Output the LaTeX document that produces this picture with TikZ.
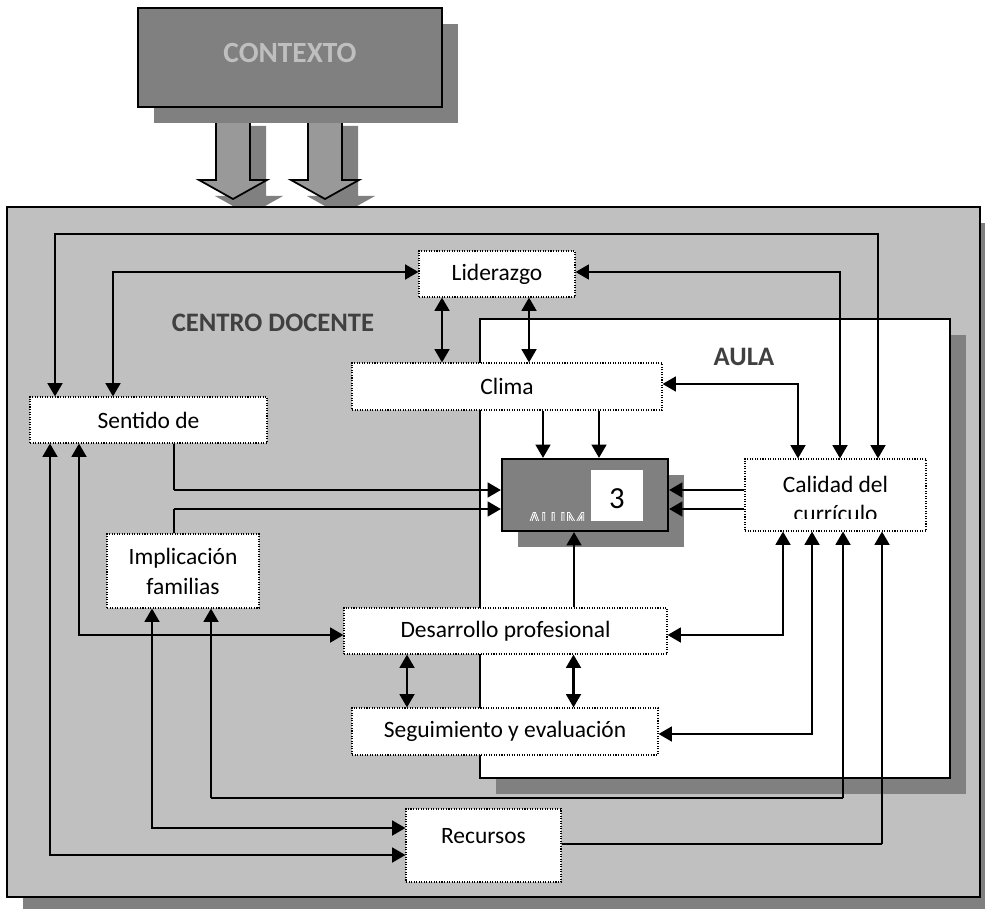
\documentclass[tikz,border=0pt]{standalone}
\usepackage{fontspec}
\setmainfont{Carlito}
\usetikzlibrary{arrows.meta}
\definecolor{outergray}{HTML}{C0C0C0}
\definecolor{boxgray}{HTML}{808080}
\definecolor{arrowgray}{HTML}{999999}
\definecolor{labelgray}{HTML}{404040}
\definecolor{ctxgray}{HTML}{BFBFBF}
\newcommand\txtfont{\fontsize{17.6}{22.5}\selectfont}
\newcommand\lblfont{\bfseries\fontsize{20}{24}\selectfont}
\begin{document}
\begin{tikzpicture}[x=0.75pt,y=-0.75pt,
 sz/.style 2 args={minimum width=#1*0.75pt,minimum height=#2*0.75pt},
 wbox/.style={draw=black,fill=white,line width=0.8pt,dash pattern=on 0.8pt off 1.1pt,inner sep=0pt,font=\txtfont,align=center},
 ftri/.tip={Triangle[length=10pt,width=11pt]},
 arr/.style={line width=2pt,-ftri},
 dbl/.style={line width=2pt,ftri-ftri},
 thinline/.style={line width=1pt},
 txt/.style={font=\txtfont,inner sep=0pt},
 lbl/.style={font=\lblfont,text=labelgray,inner sep=0pt},
 blockarrow/.style={draw=black,line width=1.3pt,fill=arrowgray,line join=miter}]
\useasboundingbox (0,0) rectangle (985,909);
\clip (0,0) rectangle (985,909);
% block arrows
\fill[boxgray] (232,126) -- (266,126) -- (266,196) -- (283,196) -- (249,215) -- (215,196) -- (232,196) -- cycle;
\fill[boxgray] (324,126) -- (358,126) -- (358,196) -- (375,196) -- (341,215) -- (307,196) -- (324,196) -- cycle;
\draw[blockarrow] (216,110) -- (250,110) -- (250,180) -- (267,180) -- (233,199) -- (199,180) -- (216,180) -- cycle;
\draw[blockarrow] (308,110) -- (342,110) -- (342,180) -- (359,180) -- (325,199) -- (291,180) -- (308,180) -- cycle;
% contexto
\fill[boxgray] (154,24) rectangle (458,123);
\node[draw=black,line width=1.3pt,fill=boxgray,sz={304}{99}] (ctx) at (290,57.5) {};
\node[font=\bfseries\fontsize{22}{26}\selectfont,text=ctxgray,inner sep=0pt] (ctxt) at (290,53.3) {CONTEXTO};
% centro docente
\fill[boxgray] (23,223) rectangle (996,913);
\node[draw=black,line width=1.3pt,fill=outergray,sz={973}{690}] (centro) at (493.5,552) {};
% aula
\fill[boxgray] (496,335) rectangle (966,794);
\node[draw=black,line width=1.3pt,fill=white,sz={470}{459}] (aula) at (715,548.5) {};
\node[lbl] (lblcentro) at (273,323) {CENTRO DOCENTE};
\node[lbl] (lblaula) at (744,357) {AULA};
% alumnado
\fill[boxgray] (518,475) rectangle (684,547);
\node[draw=black,line width=1.6pt,fill=boxgray,sz={166}{72}] (alum) at (585,495) {};
\begin{scope}
\clip (503,460) rectangle (591,520.7);
\node[txt,anchor=base west,text=boxgray] (alumtxt) at (527.3,527.5) {\special{pdf:literal direct 2 Tr 1 1 1 RG 0.6 w}ALUM\special{pdf:literal direct 0 Tr}};
\end{scope}
\node[fill=white,sz={52}{51},inner sep=0pt] (three) at (617,495.5) {};
\node[font=\fontsize{23}{27}\selectfont,anchor=base,inner sep=0pt] (threetxt) at (617,508.3) {3};
% white boxes
\node[wbox,sz={156}{46}] (lid) at (497,274) {Liderazgo};
\node[wbox,sz={310}{47}] (clima) at (507,386.5) {Clima};
\node[wbox,sz={237}{46}] (sent) at (148.5,420) {Sentido de};
\node[wbox,sz={181}{72}] (cal) at (835.5,495) {};
\begin{scope}
\clip (746,460) rectangle (925,518.5);
\node[txt,anchor=base] (caltxt1) at (835.5,492.7) {Calidad del};
\node[txt,anchor=base] (caltxt2) at (835.5,521) {currículo};
\end{scope}
\node[wbox,sz={152}{74}] (imp) at (183,571) {Implicación\\familias};
\node[wbox,sz={323}{46}] (des) at (505.5,631) {Desarrollo profesional};
\node[wbox,sz={306}{47}] (seg) at (505,731.5) {Seguimiento y evaluación};
\node[wbox,sz={155}{73}] (rec) at (483.5,845.5) {};
\node[txt,anchor=base] (rectxt) at (483.5,843.3) {Recursos};
% connectors
\coordinate (c1a) at (55,234);
\coordinate (c1b) at (878,234);
\draw[dbl] (sent.north -| c1a) -- (c1a) -- (c1b) -- (c1b |- cal.north);
\coordinate (c2) at (113,272);
\draw[dbl] (sent.north -| c2) -- (c2) -- (c2 -| lid.west);
\coordinate (c3) at (840,272);
\draw[dbl] (lid.east |- c3) -- (c3) -- (c3 |- cal.north);
\coordinate (c4a) at (442,330);
\coordinate (c4b) at (529,330);
\draw[dbl] (lid.south -| c4a) -- (clima.north -| c4a);
\draw[dbl] (lid.south -| c4b) -- (clima.north -| c4b);
\coordinate (c5) at (798,384);
\draw[dbl] (clima.east |- c5) -- (c5) -- (c5 |- cal.north);
\coordinate (c6a) at (543,430);
\coordinate (c6b) at (599,430);
\draw[arr] (clima.south -| c6a) -- (alum.north -| c6a);
\draw[arr] (clima.south -| c6b) -- (alum.north -| c6b);
\coordinate (c7) at (174,490);
\draw[thinline] (sent.south -| c7) -- (c7);
\draw[arr] (c7) -- (c7 -| alum.west);
\coordinate (c8) at (174,509);
\draw[thinline] (imp.north -| c8) -- (c8);
\draw[arr] (c8) -- (c8 -| alum.west);
\draw[arr] (cal.west |- c7) -- (alum.east |- c7);
\draw[arr] (cal.west |- c8) -- (alum.east |- c8);
\coordinate (c10) at (574,580);
\draw[arr] (des.north -| c10) -- (alum.south -| c10);
\coordinate (c11) at (783,635);
\draw[dbl] (des.east |- c11) -- (c11) -- (c11 |- cal.south);
\coordinate (c12) at (812,734);
\draw[dbl] (seg.east |- c12) -- (c12) -- (c12 |- cal.south);
\coordinate (c13a) at (211,798);
\coordinate (c13b) at (843,798);
\draw[arr] (c13a) -- (imp.south -| c13a);
\draw[thinline] (c13a) -- (c13b);
\draw[arr] (c13b) -- (c13b |- cal.south);
\coordinate (c14) at (882,844);
\draw[thinline] (rec.east |- c14) -- (c14);
\draw[arr] (c14) -- (c14 |- cal.south);
\coordinate (c15) at (50,855);
\draw[dbl] (sent.south -| c15) -- (c15) -- (c15 -| rec.west);
\coordinate (c16) at (79,635);
\draw[dbl] (sent.south -| c16) -- (c16) -- (c16 -| des.west);
\coordinate (c17) at (152,828);
\draw[dbl] (imp.south -| c17) -- (c17) -- (c17 -| rec.west);
\coordinate (c18a) at (407,680);
\coordinate (c18b) at (573.5,680);
\draw[dbl] (des.south -| c18a) -- (seg.north -| c18a);
\draw[dbl] (des.south -| c18b) -- (seg.north -| c18b);
\end{tikzpicture}
\end{document}
